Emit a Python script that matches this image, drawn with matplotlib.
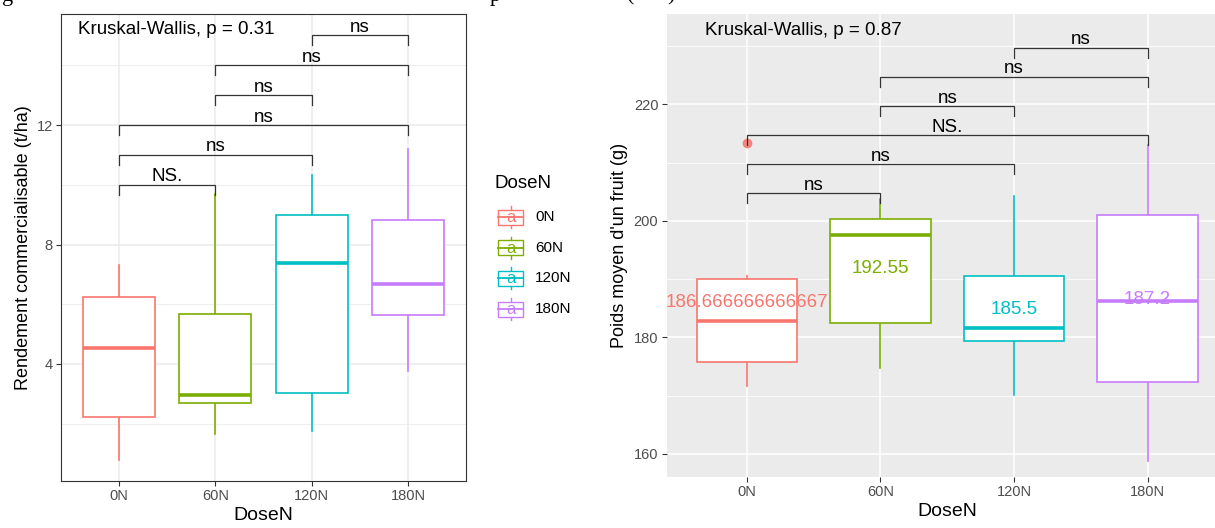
import matplotlib
matplotlib.use("Agg")
import matplotlib.pyplot as plt
from matplotlib.patches import Rectangle

plt.rcParams["font.family"] = ["Liberation Sans", "DejaVu Sans"]

# ---------------- data ----------------
doses = ["0N", "60N", "120N", "180N"]
colors = ["#F8766D", "#7CAE00", "#00BFC4", "#C77CFF"]

# Left panel: Rendement commercialisable (t/ha)
rend_whislo = [0.77, 1.66, 1.74, 3.78]
rend_q1 = [2.21, 2.69, 3.02, 5.63]
rend_med = [4.52, 2.97, 7.38, 6.69]
rend_q3 = [6.23, 5.67, 8.98, 8.82]
rend_whishi = [7.30, 9.70, 10.33, 11.19]
rend_kw = "Kruskal-Wallis, p = 0.31"
rend_pair_a = [0, 0, 0, 1, 1, 2]
rend_pair_b = [1, 2, 3, 2, 3, 3]
rend_pair_lab = ["NS.", "ns", "ns", "ns", "ns", "ns"]
rend_pair_y = [10, 11, 12, 13, 14, 15]

# Right panel: Poids moyen d'un fruit (g)
poids_whislo = [171.7, 174.7, 170.1, 158.8]
poids_q1 = [175.8, 182.5, 179.4, 172.4]
poids_med = [182.9, 197.6, 181.6, 186.2]
poids_q3 = [190.1, 200.4, 190.5, 201.0]
poids_whishi = [190.5, 203.7, 204.3, 213.0]
poids_outliers = [[213.3], [], [], []]
poids_means = [186.666666666667, 192.55, 185.5, 187.2]
poids_mean_lab = ["186.666666666667", "192.55", "185.5", "187.2"]
poids_kw = "Kruskal-Wallis, p = 0.87"
poids_pair_a = [0, 0, 0, 1, 1, 2]
poids_pair_b = [1, 2, 3, 2, 3, 3]
poids_pair_lab = ["ns", "ns", "NS.", "ns", "ns", "ns"]
poids_pair_y = [204.7, 209.7, 214.7, 219.7, 224.7, 229.7]

W, H = 1215, 528
fig = plt.figure(figsize=(W / 100, H / 100), dpi=100)

GREY30 = "#4D4D4D"
GREY20 = "#333333"


def boxes(ax, whislo, q1, med, q3, whishi, fliers):
    stats = []
    for i in range(len(doses)):
        stats.append(dict(med=med[i], q1=q1[i], q3=q3[i], whislo=whislo[i],
                          whishi=whishi[i], fliers=fliers[i]))
    bp = ax.bxp(stats, positions=range(len(doses)), widths=0.75,
                patch_artist=True, showcaps=False, showfliers=True,
                manage_ticks=False)
    for i, c in enumerate(colors):
        bp["boxes"][i].set(facecolor="white", edgecolor=c, linewidth=1.2, zorder=3)
        bp["medians"][i].set(color=c, linewidth=2.6, zorder=4,
                             solid_capstyle="butt")
        for w in bp["whiskers"][2 * i:2 * i + 2]:
            w.set(color=c, linewidth=1.2, zorder=2)
        bp["fliers"][i].set(marker="o", markerfacecolor=c, markeredgecolor=c,
                            markersize=6, alpha=0.85, zorder=5)


def brackets(ax, pa, pb, labs, ys, tip):
    for a, b, lab, y in zip(pa, pb, labs, ys):
        ax.plot([a, a, b, b], [y - tip, y, y, y - tip], color=GREY20,
                linewidth=0.9, zorder=6, solid_joinstyle="miter")
        ax.annotate(lab, xy=((a + b) / 2, y), xytext=(0, 2.5),
                    textcoords="offset points", ha="center", va="baseline",
                    fontsize=13.5, color="black", zorder=7)


def style_ticks(ax):
    ax.set_xticks(range(len(doses)))
    ax.set_xticklabels(doses)
    ax.tick_params(axis="both", which="major", length=3.5, width=0.8,
                   color=GREY20, labelcolor=GREY30, labelsize=10.5, pad=2.5)
    ax.tick_params(axis="both", which="minor", length=0)
    ax.set_xlim(-0.6, 3.6)


# ---------------- left panel ----------------
axL = fig.add_axes([61 / W, 1 - 481 / H, 405 / W, 467 / H])
axL.set_facecolor("white")
for s in axL.spines.values():
    s.set_color(GREY20)
    s.set_linewidth(0.8)
boxes(axL, rend_whislo, rend_q1, rend_med, rend_q3, rend_whishi, [[], [], [], []])
axL.set_ylim(0.08, 15.72)
axL.set_yticks([4, 8, 12])
axL.set_yticks([2, 6, 10, 14], minor=True)
style_ticks(axL)
axL.grid(True, which="major", color="#EBEBEB", linewidth=1.1, zorder=0)
axL.grid(True, which="minor", axis="y", color="#EBEBEB", linewidth=0.6, zorder=0)
axL.set_axisbelow(True)
brackets(axL, rend_pair_a, rend_pair_b, rend_pair_lab, rend_pair_y, 0.33)
axL.text(0.042, 0.966, rend_kw, transform=axL.transAxes, ha="left",
         va="center", fontsize=13.5, color="black")
axL.set_xlabel("DoseN", fontsize=14, labelpad=2.5, color="black")
axL.set_ylabel("Rendement commercialisable (t/ha)", fontsize=13,
               labelpad=3, color="black")

# ---------------- right panel ----------------
axR = fig.add_axes([666.7 / W, 1 - 477 / H, 561 / W, 462.7 / H])
axR.set_facecolor("#EBEBEB")
for s in axR.spines.values():
    s.set_visible(False)
boxes(axR, poids_whislo, poids_q1, poids_med, poids_q3, poids_whishi,
      poids_outliers)
axR.set_ylim(156.05, 235.44)
axR.set_yticks([160, 180, 200, 220])
axR.set_yticks([170, 190, 210, 230], minor=True)
style_ticks(axR)
axR.grid(True, which="major", color="white", linewidth=1.1, zorder=0)
axR.grid(True, which="minor", axis="y", color="white", linewidth=0.6, zorder=0)
axR.set_axisbelow(True)
for i, (m, lab) in enumerate(zip(poids_means, poids_mean_lab)):
    axR.annotate(lab, xy=(i, m), xytext=(0, -3), textcoords="offset points",
                 ha="center", va="center", fontsize=13.5, color=colors[i],
                 zorder=8)
brackets(axR, poids_pair_a, poids_pair_b, poids_pair_lab, poids_pair_y, 1.7)
axR.text(0.068, 0.966, poids_kw, transform=axR.transAxes, ha="left",
         va="center", fontsize=13.5, color="black")
axR.set_xlabel("DoseN", fontsize=14, labelpad=2.5, color="black")
axR.set_ylabel("Poids moyen d'un fruit (g)", fontsize=13, labelpad=4,
               color="black")

# ---------------- legend (left panel) & clipped caption ----------------
axP = fig.add_axes([0, 0, 1, 1], zorder=10)
axP.set_xlim(0, W)
axP.set_ylim(H, 0)
axP.axis("off")
axP.patch.set_alpha(0)

axP.text(495, 183, "DoseN", ha="left", va="center", fontsize=13.5, color="black")
key_y0, key_dy = 217, 30.7
for i, (d, c) in enumerate(zip(doses, colors)):
    yc = key_y0 + i * key_dy
    axP.plot([510.5, 510.5], [yc - 11, yc + 11], color=c, linewidth=1.0)
    axP.add_patch(Rectangle((498, yc - 7.5), 25, 15, facecolor="white",
                            edgecolor=c, linewidth=1.0, zorder=3))
    axP.plot([498, 523], [yc, yc], color=c, linewidth=1.3, zorder=4)
    axP.text(510.5, yc + 0.5, "a", ha="center", va="center", fontsize=12,
             color=c, zorder=5)
    axP.text(535, yc, d, ha="left", va="center", fontsize=11, color="black")

# bottom edge of a caption line that is cut off at the top of the picture
for x, ch in [(2, "g"), (490, "p"), (627, "("), (667, ")")]:
    axP.text(x, 0.8, ch, ha="left", va="baseline", fontsize=16,
             family="Liberation Serif", color="black")

fig.savefig("out.png", dpi=100)
